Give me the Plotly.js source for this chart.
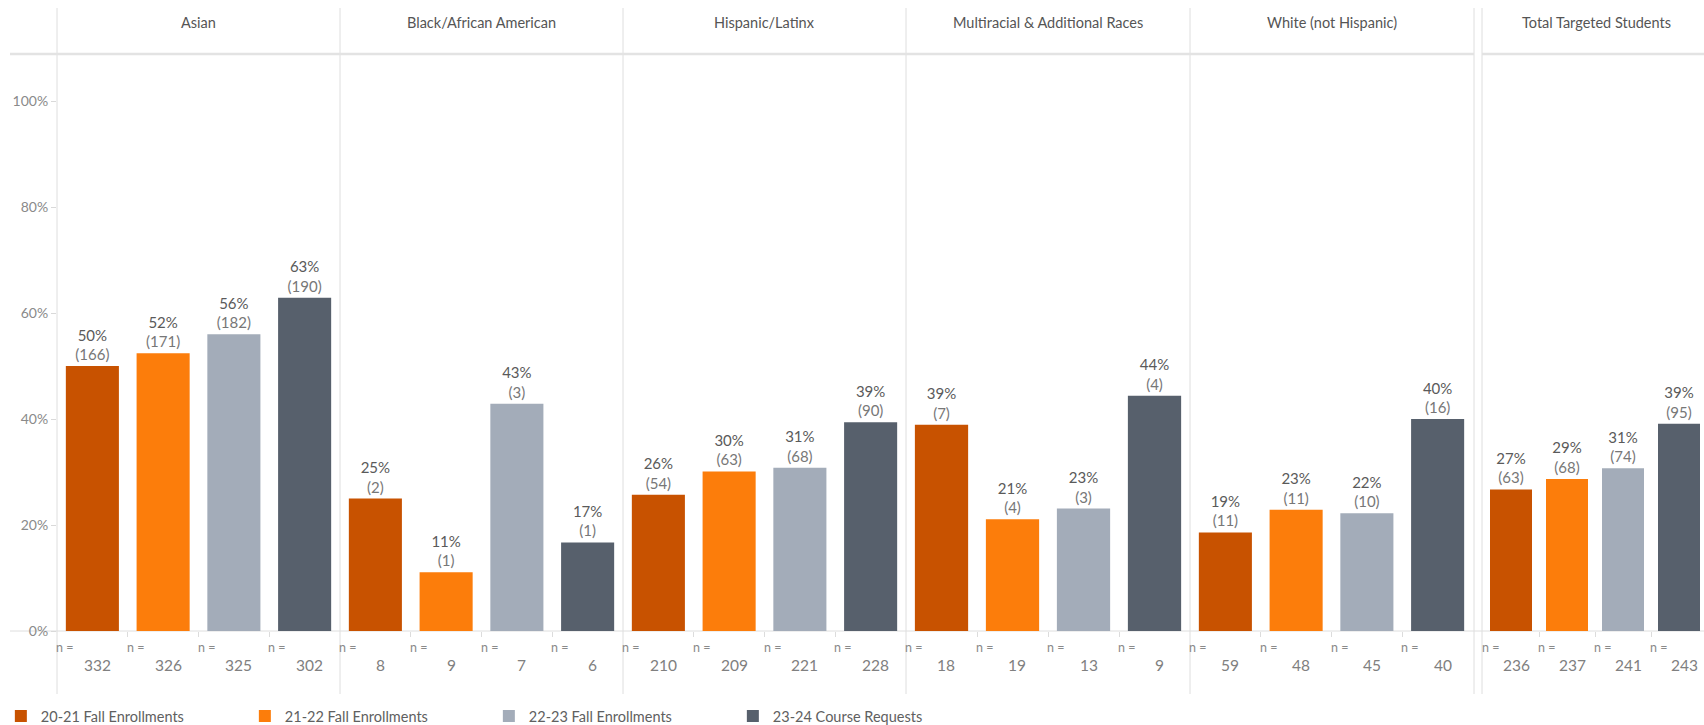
<!DOCTYPE html>
<html>
<head>
<meta charset="utf-8">
<script src="https://cdn.plot.ly/plotly-3.0.1.min.js"></script>
<style>
  html, body { margin: 0; padding: 0; background: #ffffff; }
  #chart { width: 1704px; height: 725px; }
</style>
</head>
<body>
<div id="chart"></div>
<script>
// ---------- DATA ----------
const groups = ['Asian', 'Black/African American', 'Hispanic/Latinx',
  'Multiracial & Additional Races', 'White (not Hispanic)', 'Total Targeted Students'];
const seriesNames = ['20-21 Fall Enrollments', '21-22 Fall Enrollments',
  '22-23 Fall Enrollments', '23-24 Course Requests'];

// percentage of students (bar heights), per group
const pct2021 = [50.0, 25.0, 25.7, 38.9, 18.6, 26.7];
const pct2122 = [52.4, 11.1, 30.1, 21.1, 22.9, 28.7];
const pct2223 = [56.0, 42.9, 30.8, 23.1, 22.2, 30.7];
const pct2324 = [62.9, 16.7, 39.4, 44.4, 40.0, 39.1];

// counts shown in parentheses
const cnt2021 = [166, 2, 54, 7, 11, 63];
const cnt2122 = [171, 1, 63, 4, 11, 68];
const cnt2223 = [182, 3, 68, 3, 10, 74];
const cnt2324 = [190, 1, 90, 4, 16, 95];

// n = totals
const n2021 = [332, 8, 210, 18, 59, 236];
const n2122 = [326, 9, 209, 19, 48, 237];
const n2223 = [325, 7, 221, 13, 45, 241];
const n2324 = [302, 6, 228, 9, 40, 243];

const yTicks = [0, 20, 40, 60, 80, 100];

// ---------- STYLE ----------
const colors = ['#C85200', '#FC7D0B', '#A3ACB9', '#57606C'];
const W = 1704, H = 725, MB = 20;
const HP = H - MB;               // plot-area height (paper coords refer to it)
const FONT = 'Lato, "Open Sans", "DejaVu Sans", sans-serif';
const px = v => v / W;
const py = v => 1 - v / HP;

const pctSeries = [pct2021, pct2122, pct2223, pct2324];
const cntSeries = [cnt2021, cnt2122, cnt2223, cnt2324];
const nSeries = [n2021, n2122, n2223, n2324];

// panel pixel edges
const panelEdges = [[57, 340], [340, 623], [623, 906], [906, 1190], [1190, 1473], [1483, 1704]];
const slotPx = [70.75, 70.75, 70.75, 71, 70.75, 56];

const plotTop = 57, plotBottom = 631;

const traces = [];
const layout = {
  width: W, height: H,
  margin: {l: 0, r: 0, t: 0, b: MB, autoexpand: false},
  paper_bgcolor: '#ffffff', plot_bgcolor: 'rgba(0,0,0,0)',
  font: {family: FONT, color: '#666'},
  barmode: 'overlay',
  showlegend: true,
  legend: {
    orientation: 'h', x: 0.0005, xanchor: 'left', y: py(716), yanchor: 'middle',
    font: {size: 14.5, color: '#606060', family: FONT},
    entrywidth: 199, entrywidthmode: 'pixels',
    itemclick: false, itemdoubleclick: false, tracegroupgap: 0
  },
  yaxis: {
    domain: [py(plotBottom), py(plotTop)],
    range: [0, (plotBottom - plotTop) / 5.3],
    tickvals: yTicks, ticktext: yTicks.map(v => v + '%'),
    ticks: 'outside', ticklen: 5, tickcolor: '#d9d9d9',
    tickfont: {size: 14, color: '#8a8a8a', family: FONT},
    showgrid: false, zeroline: false, showline: false,
    anchor: 'x', fixedrange: true
  },
  annotations: [],
  shapes: []
};

groups.forEach((g, gi) => {
  const ax = gi === 0 ? 'x' : 'x' + (gi + 1);
  const axKey = gi === 0 ? 'xaxis' : 'xaxis' + (gi + 1);
  const [e0, e1] = panelEdges[gi];
  const span = (e1 - e0) / slotPx[gi];
  layout[axKey] = {
    domain: [px(e0), px(e1)],
    range: [-0.5, -0.5 + span],
    tickvals: [0.5, 1.5, 2.5],
    ticks: 'outside', ticklen: 5, tickcolor: '#dcdcdc',
    showticklabels: false, showgrid: false, zeroline: false, showline: false,
    anchor: 'y', fixedrange: true
  };
  // header
  layout.annotations.push({
    xref: 'paper', yref: 'paper',
    x: px((e0 + (gi === 5 ? 1704 + 6 : e1)) / 2), y: py(22),
    text: g, showarrow: false, xanchor: 'center', yanchor: 'middle',
    font: {size: 14.5, color: '#555', family: FONT}
  });
  seriesNames.forEach((s, si) => {
    const p = pctSeries[si][gi];
    const c = cntSeries[si][gi];
    traces.push({
      type: 'bar',
      name: s,
      legendgroup: s,
      showlegend: gi === 0,
      xaxis: ax, yaxis: 'y',
      x: [si], y: [p], width: 0.75,
      marker: {color: colors[si], line: {width: 0}},
      text: ['<span style="color:#5a5a5a">' + Math.round(p) + '%</span><br>(' + c + ')'],
      textposition: 'outside',
      constraintext: 'none',
      cliponaxis: false,
      textfont: {size: 15, color: '#777', family: FONT},
      hovertemplate: s + '<br>' + g + ': ' + Math.round(p) + '% (' + c + ')<extra></extra>'
    });
    // n labels
    layout.annotations.push({
      xref: ax, yref: 'paper', x: si - 0.5, y: py(647),
      text: 'n =', showarrow: false, xanchor: 'left', yanchor: 'middle', xshift: -3,
      font: {size: 12.5, color: '#8a8a8a', family: FONT}
    });
    layout.annotations.push({
      xref: ax, yref: 'paper', x: si, y: py(665),
      text: String(nSeries[si][gi]), showarrow: false, xanchor: 'center', yanchor: 'middle', xshift: 5,
      font: {size: 15.5, color: '#808080', family: FONT}
    });
  });
});

// frame lines (dividers, header line, baseline)
const lineColor = '#dedede';
const vlines = [57, 340, 623, 906, 1190, 1474, 1482];
vlines.forEach(x => layout.shapes.push({
  type: 'line', xref: 'paper', yref: 'paper',
  x0: px(x), x1: px(x), y0: py(8), y1: py(694),
  line: {color: lineColor, width: 1}, layer: 'below'
}));
layout.shapes.push({type: 'line', xref: 'paper', yref: 'paper',
  x0: px(10), x1: px(1474), y0: py(54), y1: py(54), line: {color: '#e3e3e3', width: 2.5}, layer: 'below'});
layout.shapes.push({type: 'line', xref: 'paper', yref: 'paper',
  x0: px(1482), x1: 1, y0: py(54), y1: py(54), line: {color: '#e3e3e3', width: 2.5}, layer: 'below'});
layout.shapes.push({type: 'line', xref: 'paper', yref: 'paper',
  x0: px(10), x1: 1, y0: py(631), y1: py(631), line: {color: lineColor, width: 1}, layer: 'below'});

Plotly.newPlot('chart', traces, layout, {displayModeBar: false, staticPlot: false});
</script>
</body>
</html>
